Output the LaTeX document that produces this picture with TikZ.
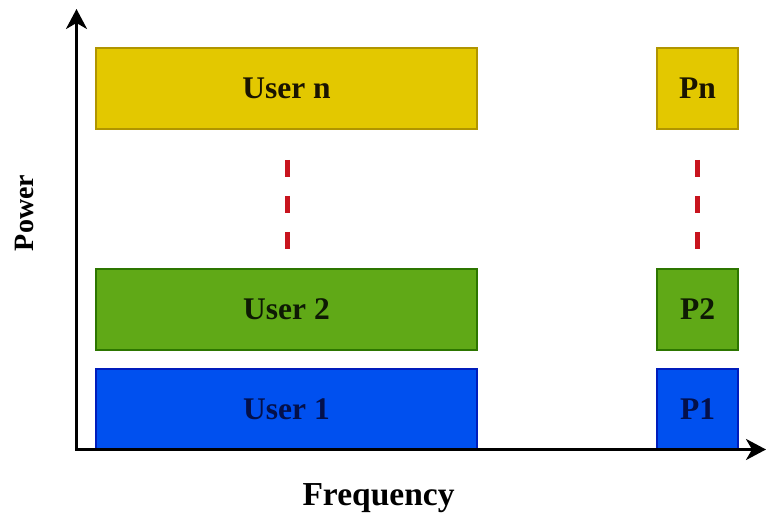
\documentclass[tikz,border=0pt]{standalone}
\usepackage{fontspec}
\setmainfont{Liberation Serif}
\usetikzlibrary{arrows.meta}

\definecolor{yfill}{HTML}{E3C800}
\definecolor{ydraw}{HTML}{B09500}
\definecolor{gfill}{HTML}{60A917}
\definecolor{gdraw}{HTML}{2D7600}
\definecolor{bfill}{HTML}{0050EF}
\definecolor{bdraw}{HTML}{001DBC}
\definecolor{btext}{HTML}{04104A}
\definecolor{gtext}{HTML}{0E1A04}
\definecolor{ytext}{HTML}{1A1400}
\definecolor{dotred}{HTML}{C8141E}

\begin{document}
\begin{tikzpicture}[x=1pt,y=-1pt,
  band/.style={rectangle, anchor=north west, outer sep=0pt, inner sep=0pt,
    line width=1.2pt, minimum height=81pt,
    font=\fontsize{31.5}{36}\selectfont\bfseries},
  wideband/.style={band, minimum width=381pt},
  narrowband/.style={band, minimum width=81pt},
  ylw/.style={fill=yfill, draw=ydraw, text=ytext},
  grn/.style={fill=gfill, draw=gdraw, text=gtext},
  blu/.style={fill=bfill, draw=bdraw, text=btext},
  gap/.style={draw=dotred, line width=5.5pt, dash pattern=on 17pt off 19pt},
  axis/.style={line width=3pt, {Stealth[length=20pt,width=21pt,inset=6pt]}-{Stealth[length=20pt,width=21pt,inset=6pt]}},
  axislabel/.style={font=\fontsize{#1}{36}\selectfont\bfseries, text=black}
]
\useasboundingbox (0,0) rectangle (766,518);

% frequency bands of each user
\node[wideband, ylw] (un) at (96,48) {User n};
\node[wideband, grn] (u2) at (96,269) {User 2};
\node[wideband, blu] (u1) at (96,369) {User 1};

% power levels
\node[narrowband, ylw] (pn) at (657,48) {Pn};
\node[narrowband, grn] (p2) at (657,269) {P2};
\node[narrowband, blu] (p1) at (657,369) {P1};

% ellipsis between the bands
\coordinate (ltop) at (287.3,160);
\coordinate (lbot) at (287.3,250);
\coordinate (rtop) at (697.3,160);
\coordinate (rbot) at (697.3,250);
\draw[gap] (ltop) -- (lbot);
\draw[gap] (rtop) -- (rbot);

% axes
\coordinate (ytip) at (76.5,9);
\coordinate (xtip) at (766,449.5);
\draw[axis] (ytip) |- (xtip);

\node[axislabel=28, rotate=90] (power) at (24,213) {Power};
\node[axislabel=33.5, anchor=base] (freq) at (378.5,505.5) {Frequency};
\end{tikzpicture}
\end{document}
